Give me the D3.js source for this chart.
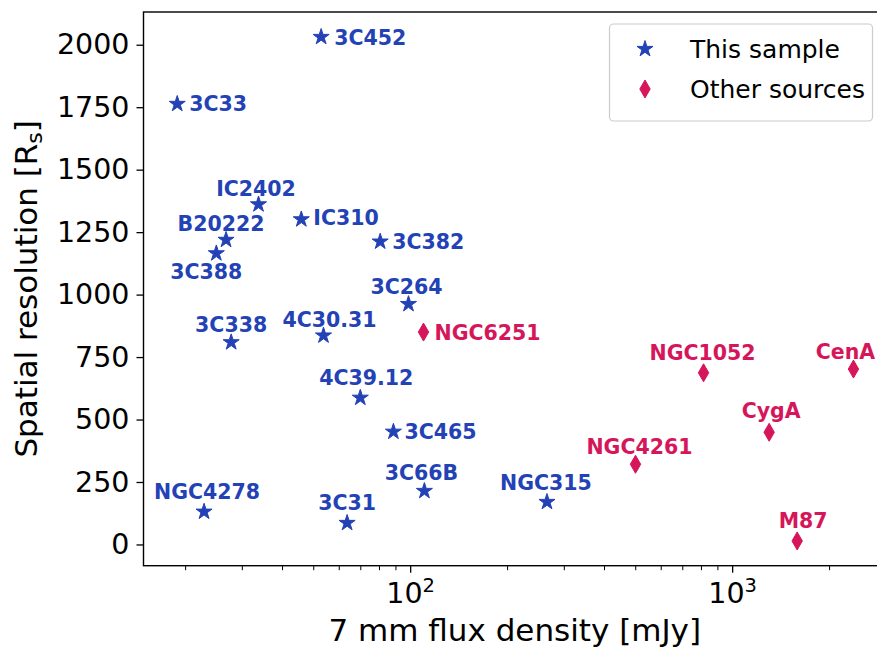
<!DOCTYPE html>
<html>
<head>
<meta charset="utf-8">
<script src="https://cdn.jsdelivr.net/npm/d3@7/dist/d3.min.js"></script>
<style>
  html, body { margin: 0; padding: 0; background: #fff; }
  svg { display: block; }
  text { font-family: "DejaVu Sans", sans-serif; }
</style>
</head>
<body>
<svg id="chart" width="877" height="648"></svg>
<script>
// ---------- data ----------
const sampleNames = ["3C452","3C33","IC2402","B20222","3C388","IC310","3C382","3C264","4C30.31","3C338","4C39.12","3C465","3C66B","NGC4278","3C31","NGC315"];
const sampleFlux  = [52.9, 18.9, 33.8, 26.8, 25.0, 45.9, 80.7, 98.8, 53.8, 27.8, 70.0, 88.7, 110.7, 22.9, 63.7, 266];
const sampleRes   = [2031, 1763, 1361, 1219, 1165, 1301, 1212, 962, 836, 809, 587, 451, 214, 131, 86, 170];

const otherNames = ["NGC6251","NGC4261","NGC1052","CygA","CenA","M87"];
const otherFlux  = [110, 501, 815, 1303, 2381, 1592];
const otherRes   = [850, 321, 687, 449, 702, 14];

const yTicks = [0, 250, 500, 750, 1000, 1250, 1500, 1750, 2000];
const xMajorTicks = [100, 1000];
const xMinorTicks = [20,30,40,50,60,70,80,90,200,300,400,500,600,700,800,900,2000];
const legendLabels = ["This sample", "Other sources"];
const xLabel = "7 mm flux density [mJy]";

// ---------- layout / style (not data) ----------
const sampleLabelPlace = ["right","right","above","above","below","right","right","above","above","above","above","right","above","above","above","above"];
const sampleLabelShift = [[13,1],[12,0],[-2.5,-16],[-5,-16],[-10,18.5],[12,-1.5],[12,0],[-2,-18],[6,-16],[0,-18],[6,-20],[11,0],[-3,-18],[3,-20],[0,-20],[-1,-19]];
const otherLabelPlace = ["right","above","above","above","above","above"];
const otherLabelShift = [[11,0],[4,-18],[-1,-20],[2,-22],[-8,-18],[6,-20]];

const BLUE = "#2342b5";
const RED  = "#d6165a";
const FONT = "DejaVu Sans";

const L = 143.5, R = 886, T = 12, B = 565.7;

const svg = d3.select("#chart");

const x = d3.scaleLog().domain([14.85, 3005]).range([L, R]);
const y = d3.scaleLinear().domain([-85, 2131]).range([B, T]);

// ---------- axes ----------
const yAxis = d3.axisLeft(y).tickValues(yTicks).tickSize(7).tickPadding(7).tickFormat(d3.format("d"));
const gy = svg.append("g").attr("transform", `translate(${L},0)`).call(yAxis);
gy.select(".domain").remove();
gy.selectAll(".tick line").attr("stroke", "#000").attr("stroke-width", 1.3);
gy.selectAll(".tick text").attr("font-size", 28.5).attr("font-family", FONT).attr("fill", "#000");

const xMinor = d3.axisBottom(x).tickValues(xMinorTicks).tickSize(4.5).tickFormat("");
const gxm = svg.append("g").attr("transform", `translate(0,${B})`).call(xMinor);
gxm.select(".domain").remove();
gxm.selectAll(".tick line").attr("stroke", "#000").attr("stroke-width", 1);

const xAxis = d3.axisBottom(x).tickValues(xMajorTicks).tickSize(7).tickFormat(d => "");
const gx = svg.append("g").attr("transform", `translate(0,${B})`).call(xAxis);
gx.select(".domain").remove();
gx.selectAll(".tick line").attr("stroke", "#000").attr("stroke-width", 1.3);
gx.selectAll(".tick text").each(function(d) {
  const t = d3.select(this);
  t.text(null).attr("y", 37).attr("dy", null).attr("font-size", 28.5).attr("font-family", FONT).attr("fill", "#000");
  t.append("tspan").text("10");
  t.append("tspan").attr("font-size", 19.5).attr("dy", -11).text(String(Math.round(Math.log10(d))));
});

// frame
svg.append("rect").attr("x", L).attr("y", T).attr("width", R - L).attr("height", B - T)
  .attr("fill", "none").attr("stroke", "#000").attr("stroke-width", 1.4);

// axis labels
svg.append("text").attr("x", (L + R) / 2).attr("y", 640.5).attr("text-anchor", "middle")
  .attr("font-size", 31).attr("font-family", FONT).text(xLabel);

const yl = svg.append("text").attr("transform", `translate(37,${(T + B) / 2}) rotate(-90)`)
  .attr("text-anchor", "middle").attr("font-size", 31).attr("font-family", FONT);
yl.append("tspan").text("Spatial resolution [R");
yl.append("tspan").attr("font-size", 22).attr("dy", 5).text("s");
yl.append("tspan").attr("dy", -5).text("]");

// ---------- markers ----------
const starPath = d3.symbol().type(d3.symbolStar).size(80)();
const thinDiamond = {
  draw(ctx, size) {
    const hw = 5.2, hh = 9.0;
    ctx.moveTo(0, -hh); ctx.lineTo(hw, 0); ctx.lineTo(0, hh); ctx.lineTo(-hw, 0); ctx.closePath();
  }
};
const diamondPath = d3.symbol().type(thinDiamond).size(1)();

const sample = sampleNames.map((n, i) => ({ name: n, f: sampleFlux[i], r: sampleRes[i], place: sampleLabelPlace[i], sh: sampleLabelShift[i] }));
const other = otherNames.map((n, i) => ({ name: n, f: otherFlux[i], r: otherRes[i], place: otherLabelPlace[i], sh: otherLabelShift[i] }));

const capHalf = 0.729 * 20.5 / 2;

function drawSet(data, path, color) {
  svg.append("g").selectAll("path").data(data).join("path")
    .attr("d", path)
    .attr("transform", d => `translate(${x(d.f)},${y(d.r)})`)
    .attr("fill", color).attr("stroke", color).attr("stroke-width", 1).attr("stroke-linejoin", "miter");
  svg.append("g").selectAll("text").data(data).join("text")
    .attr("x", d => x(d.f) + d.sh[0])
    .attr("y", d => y(d.r) + d.sh[1] + capHalf)
    .attr("text-anchor", d => d.place === "right" ? "start" : "middle")
    .attr("font-size", 20.5).attr("font-weight", "bold").attr("font-family", FONT)
    .attr("fill", color)
    .text(d => d.name);
}
drawSet(sample, starPath, BLUE);
drawSet(other, diamondPath, RED);

// ---------- legend ----------
const lg = svg.append("g");
lg.append("rect").attr("x", 609.5).attr("y", 24).attr("width", 263).attr("height", 97)
  .attr("rx", 4).attr("fill", "#fff").attr("fill-opacity", 0.8)
  .attr("stroke", "#cccccc").attr("stroke-width", 1.2);
const legendItems = [
  { label: legendLabels[0], path: starPath, color: BLUE },
  { label: legendLabels[1], path: diamondPath, color: RED }
];
legendItems.forEach((it, i) => {
  const cy = 49 + i * 40;
  lg.append("path").attr("d", it.path).attr("transform", `translate(645,${cy})`)
    .attr("fill", it.color).attr("stroke", it.color).attr("stroke-width", 1);
  lg.append("text").attr("x", 690).attr("y", cy + 0.729 * 25 / 2).attr("font-size", 25)
    .attr("font-family", FONT).attr("fill", "#000").text(it.label);
});
</script>
</body>
</html>
